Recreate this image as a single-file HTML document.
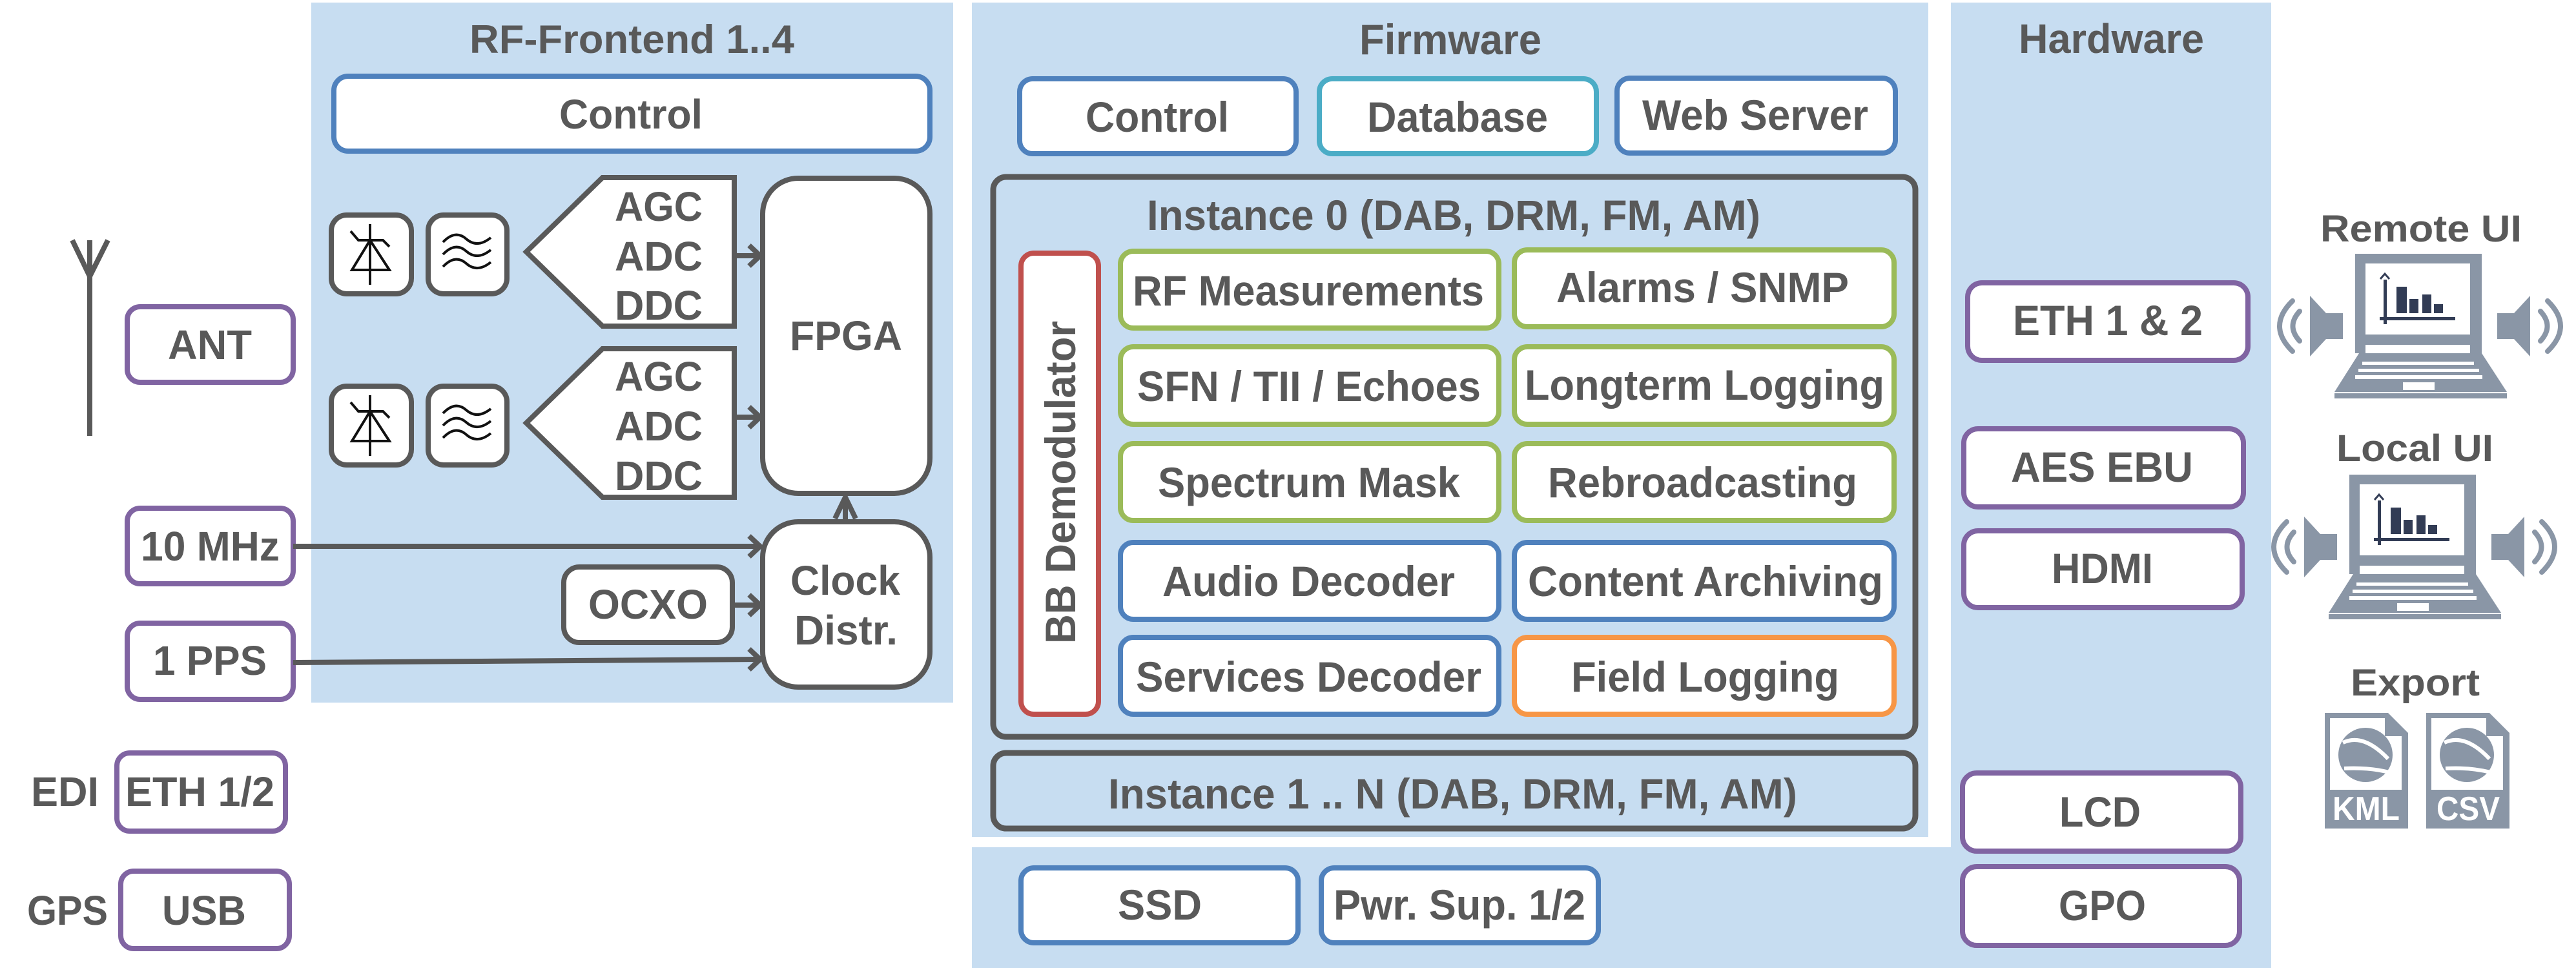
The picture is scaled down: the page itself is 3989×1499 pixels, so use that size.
<!DOCTYPE html>
<html><head><meta charset="utf-8"><style>
html,body{margin:0;padding:0;background:#fff;}
svg{display:block;}
text{font-family:"Liberation Sans",Arial,sans-serif;font-weight:bold;fill:#595959;}
</style></head><body>
<svg width="3989" height="1499" viewBox="0 0 3989 1499" xmlns="http://www.w3.org/2000/svg">
<!-- panels -->
<rect x="482" y="4" width="994" height="1084" fill="#c7ddf1"/>
<rect x="1505" y="4" width="1481" height="1292" fill="#c7ddf1"/>
<rect x="1505" y="1312" width="2012" height="187" fill="#c7ddf1"/>
<rect x="3021" y="4" width="496" height="1495" fill="#c7ddf1"/>

<g fill="#fff" stroke-width="8">
<!-- RF -->
<rect x="517" y="118" width="923" height="116" rx="22" stroke="#4f81bd"/>
<rect x="513" y="333" width="124" height="122" rx="24" stroke="#595959"/>
<rect x="663" y="333" width="122" height="122" rx="24" stroke="#595959"/>
<rect x="513" y="598" width="124" height="122" rx="24" stroke="#595959"/>
<rect x="663" y="598" width="122" height="122" rx="24" stroke="#595959"/>
<polygon points="815,390 933,275 1137,275 1137,505 933,505" stroke="#595959" stroke-linejoin="miter"/>
<polygon points="815,655 933,540 1137,540 1137,770 933,770" stroke="#595959"/>
<rect x="1181" y="276" width="259" height="488" rx="55" stroke="#595959"/>
<rect x="1181" y="808" width="259" height="256" rx="55" stroke="#595959"/>
<rect x="873" y="878" width="261" height="117" rx="24" stroke="#595959"/>
<!-- left -->
<rect x="197" y="475" width="257" height="117" rx="20" stroke="#8064a2"/>
<rect x="197" y="787" width="257" height="117" rx="20" stroke="#8064a2"/>
<rect x="197" y="965" width="257" height="118" rx="20" stroke="#8064a2"/>
<rect x="181" y="1166" width="261" height="121" rx="20" stroke="#8064a2"/>
<rect x="187" y="1349" width="261" height="120" rx="20" stroke="#8064a2"/>
<!-- firmware -->
<rect x="1579" y="122" width="428" height="116" rx="20" stroke="#4f81bd"/>
<rect x="2043" y="122" width="429" height="116" rx="20" stroke="#4bacc6"/>
<rect x="2504" y="121" width="431" height="116" rx="20" stroke="#4f81bd"/>
<rect x="1538" y="274" width="1428" height="867" rx="20" fill="none" stroke="#595959" stroke-width="9"/>
<rect x="1581" y="392" width="120" height="714" rx="20" stroke="#c0504d"/>
<rect x="1735" y="389" width="586" height="119" rx="20" stroke="#9bbb59"/>
<rect x="2345" y="387" width="588" height="119" rx="20" stroke="#9bbb59"/>
<rect x="1735" y="537" width="586" height="120" rx="20" stroke="#9bbb59"/>
<rect x="2345" y="537" width="588" height="120" rx="20" stroke="#9bbb59"/>
<rect x="1735" y="687" width="586" height="119" rx="20" stroke="#9bbb59"/>
<rect x="2345" y="687" width="588" height="119" rx="20" stroke="#9bbb59"/>
<rect x="1735" y="840" width="586" height="119" rx="20" stroke="#4f81bd"/>
<rect x="2345" y="840" width="588" height="119" rx="20" stroke="#4f81bd"/>
<rect x="1735" y="987" width="586" height="119" rx="20" stroke="#4f81bd"/>
<rect x="2345" y="987" width="588" height="119" rx="20" stroke="#f79646"/>
<rect x="1538" y="1166" width="1428" height="117" rx="20" fill="none" stroke="#595959" stroke-width="9"/>
<rect x="1581" y="1344" width="429" height="116" rx="20" stroke="#4f81bd"/>
<rect x="2046" y="1344" width="429" height="116" rx="20" stroke="#4f81bd"/>
<!-- hardware -->
<rect x="3047" y="438" width="434" height="120" rx="22" stroke="#8064a2"/>
<rect x="3041" y="664" width="433" height="121" rx="22" stroke="#8064a2"/>
<rect x="3041" y="822" width="431" height="119" rx="22" stroke="#8064a2"/>
<rect x="3039" y="1197" width="431" height="121" rx="22" stroke="#8064a2"/>
<rect x="3039" y="1342" width="429" height="122" rx="22" stroke="#8064a2"/>
</g>

<!-- icons in RF -->
<g stroke="#111" stroke-width="4" fill="none">
<line x1="573" y1="347" x2="573" y2="441"/>
<polygon points="573,372 545,418 603,418"/>
<polyline points="543,358 555,372 593,372 603,382"/>
<line x1="573" y1="612" x2="573" y2="706"/>
<polygon points="573,637 545,683 603,683"/>
<polyline points="543,623 555,637 593,637 603,647"/>
<path d="M686,375 Q705,355 722,370 T760,368"/>
<path d="M686,394 Q705,374 722,389 T760,387"/>
<path d="M686,413 Q705,393 722,408 T760,406"/>
<path d="M686,640 Q705,620 722,635 T760,633"/>
<path d="M686,659 Q705,639 722,654 T760,652"/>
<path d="M686,678 Q705,658 722,673 T760,671"/>
</g>

<!-- antenna & connectors -->
<g stroke="#595959" stroke-width="8" fill="none">
<line x1="139" y1="372" x2="139" y2="675"/>
<polyline points="112,372 139,428 167,372"/>
<line x1="454" y1="846" x2="1177" y2="846"/>
<polyline points="1160,830 1177,846 1160,862"/>
<line x1="454" y1="1026" x2="1177" y2="1021"/>
<polyline points="1160,1005 1177,1021 1160,1037"/>
<line x1="1137" y1="937" x2="1177" y2="937"/>
<polyline points="1160,921 1177,937 1160,953"/>
<line x1="1137" y1="396" x2="1177" y2="396"/>
<polyline points="1160,380 1177,396 1160,412"/>
<line x1="1137" y1="646" x2="1177" y2="646"/>
<polyline points="1160,630 1177,646 1160,662"/>
<line x1="1309" y1="806" x2="1309" y2="770"/>
<polyline points="1293,803 1309,770 1325,803"/>
</g>

<!-- RF text -->
<text x="727" y="82" font-size="62" textLength="503" lengthAdjust="spacingAndGlyphs">RF-Frontend 1..4</text>
<text x="866" y="199" font-size="64" textLength="222" lengthAdjust="spacingAndGlyphs">Control</text>
<g font-size="64">
<text x="952" y="342" textLength="136" lengthAdjust="spacingAndGlyphs">AGC</text>
<text x="952" y="419" textLength="136" lengthAdjust="spacingAndGlyphs">ADC</text>
<text x="952" y="495" textLength="136" lengthAdjust="spacingAndGlyphs">DDC</text>
<text x="952" y="605" textLength="136" lengthAdjust="spacingAndGlyphs">AGC</text>
<text x="952" y="682" textLength="136" lengthAdjust="spacingAndGlyphs">ADC</text>
<text x="952" y="759" textLength="136" lengthAdjust="spacingAndGlyphs">DDC</text>
<text x="1223" y="542" textLength="174" lengthAdjust="spacingAndGlyphs">FPGA</text>
<text x="1224" y="921" textLength="170" lengthAdjust="spacingAndGlyphs">Clock</text>
<text x="1230" y="998" textLength="160" lengthAdjust="spacingAndGlyphs">Distr.</text>
<text x="911" y="958" textLength="185" lengthAdjust="spacingAndGlyphs">OCXO</text>
<text x="260" y="556" textLength="130" lengthAdjust="spacingAndGlyphs">ANT</text>
<text x="218" y="868" textLength="215" lengthAdjust="spacingAndGlyphs">10 MHz</text>
<text x="237" y="1045" textLength="176" lengthAdjust="spacingAndGlyphs">1 PPS</text>
<text x="48" y="1248" textLength="105" lengthAdjust="spacingAndGlyphs">EDI</text>
<text x="194" y="1248" textLength="231" lengthAdjust="spacingAndGlyphs">ETH 1/2</text>
<text x="42" y="1432" textLength="125" lengthAdjust="spacingAndGlyphs">GPS</text>
<text x="251" y="1432" textLength="130" lengthAdjust="spacingAndGlyphs">USB</text>
</g>

<!-- firmware text -->
<g font-size="66">
<text x="2105" y="84" textLength="282" lengthAdjust="spacingAndGlyphs">Firmware</text>
<text x="1681" y="204" textLength="222" lengthAdjust="spacingAndGlyphs">Control</text>
<text x="2117" y="204" textLength="280" lengthAdjust="spacingAndGlyphs">Database</text>
<text x="2543" y="201" textLength="350" lengthAdjust="spacingAndGlyphs">Web Server</text>
<text x="1776" y="356" textLength="950" lengthAdjust="spacingAndGlyphs">Instance 0 (DAB, DRM, FM, AM)</text>
<text x="1754" y="473" textLength="544" lengthAdjust="spacingAndGlyphs">RF Measurements</text>
<text x="2410" y="468" textLength="453" lengthAdjust="spacingAndGlyphs">Alarms / SNMP</text>
<text x="1761" y="621" textLength="532" lengthAdjust="spacingAndGlyphs">SFN / TII / Echoes</text>
<text x="2361" y="619" textLength="557" lengthAdjust="spacingAndGlyphs">Longterm Logging</text>
<text x="1793" y="770" textLength="468" lengthAdjust="spacingAndGlyphs">Spectrum Mask</text>
<text x="2397" y="770" textLength="479" lengthAdjust="spacingAndGlyphs">Rebroadcasting</text>
<text x="1800" y="923" textLength="453" lengthAdjust="spacingAndGlyphs">Audio Decoder</text>
<text x="2366" y="923" textLength="550" lengthAdjust="spacingAndGlyphs">Content Archiving</text>
<text x="1759" y="1071" textLength="535" lengthAdjust="spacingAndGlyphs">Services Decoder</text>
<text x="2433" y="1071" textLength="415" lengthAdjust="spacingAndGlyphs">Field Logging</text>
<text x="0" y="0" textLength="500" lengthAdjust="spacingAndGlyphs" transform="translate(1665,997) rotate(-90)">BB Demodulator</text>
<text x="1716" y="1252" textLength="1067" lengthAdjust="spacingAndGlyphs">Instance 1 .. N (DAB, DRM, FM, AM)</text>
<text x="1731" y="1424" textLength="130" lengthAdjust="spacingAndGlyphs">SSD</text>
<text x="2065" y="1424" textLength="390" lengthAdjust="spacingAndGlyphs">Pwr. Sup. 1/2</text>
</g>

<!-- hardware text -->
<g font-size="66">
<text x="3126" y="82" font-size="64" textLength="287" lengthAdjust="spacingAndGlyphs">Hardware</text>
<text x="3117" y="519" textLength="294" lengthAdjust="spacingAndGlyphs">ETH 1 &amp; 2</text>
<text x="3114" y="746" textLength="282" lengthAdjust="spacingAndGlyphs">AES EBU</text>
<text x="3177" y="903" textLength="157" lengthAdjust="spacingAndGlyphs">HDMI</text>
<text x="3189" y="1280" textLength="126" lengthAdjust="spacingAndGlyphs">LCD</text>
<text x="3188" y="1425" textLength="135" lengthAdjust="spacingAndGlyphs">GPO</text>
</g>
<g font-size="58">
<text x="3593" y="374" textLength="312" lengthAdjust="spacingAndGlyphs">Remote UI</text>
<text x="3618" y="714" textLength="243" lengthAdjust="spacingAndGlyphs">Local UI</text>
<text x="3640" y="1077" textLength="200" lengthAdjust="spacingAndGlyphs">Export</text>
</g>

<!-- laptops -->
<defs>
<g id="lap">
<rect x="3647" y="393" width="196" height="154" fill="#8a96a6"/>
<rect x="3663" y="408" width="162" height="110" fill="#fff"/>
<rect x="3663" y="534" width="162" height="13" fill="#fff"/>
<polygon points="3653,547 3843,547 3882,607 3615,607" fill="#8a96a6"/>
<rect x="3658" y="560" width="173" height="5" fill="#fff"/>
<rect x="3652" y="571" width="187" height="5" fill="#fff"/>
<rect x="3647" y="581" width="197" height="6" fill="#fff"/>
<rect x="3721" y="592" width="49" height="12" fill="#fff"/>
<rect x="3615" y="609" width="267" height="8" fill="#8a96a6"/>
<g fill="#323c55">
<rect x="3691" y="433" width="5" height="69"/>
<rect x="3685" y="491" width="117" height="5"/>
<rect x="3711" y="444" width="16" height="41"/>
<rect x="3731" y="463" width="14" height="22"/>
<rect x="3751" y="456" width="14" height="29"/>
<rect x="3769" y="471" width="14" height="14"/>
</g>
<polyline points="3686,432 3693,424 3700,432" fill="none" stroke="#323c55" stroke-width="3"/>
<g id="spk">
<polygon points="3577,458 3602,485 3628,485 3628,525 3602,525 3577,552" fill="#8a96a6"/>
<path d="M3561,482 Q3540,505 3561,528" fill="none" stroke="#8a96a6" stroke-width="8" stroke-linecap="round"/>
<path d="M3550,466 Q3510,505 3550,544" fill="none" stroke="#8a96a6" stroke-width="8" stroke-linecap="round"/>
</g>
<use href="#spk" transform="translate(7495,0) scale(-1,1)"/>
</g>
<g id="file">
<path d="M3600,1104 L3698,1104 L3729,1135 L3729,1283 L3600,1283 Z" fill="#8a96a6"/>
<path d="M3608,1112 L3693,1112 L3693,1140 L3719,1140 L3719,1223 L3608,1223 Z" fill="#fff"/>
<circle cx="3663" cy="1169" r="42" fill="#8a96a6"/>
<path d="M3628,1150 Q3660,1135 3698,1175 M3630,1190 Q3668,1188 3700,1196" stroke="#fff" stroke-width="6" fill="none"/>
</g>
</defs>
<use href="#lap"/>
<use href="#lap" transform="translate(-9,342)"/>
<use href="#file"/>
<use href="#file" transform="translate(157,0)"/>
<text x="3612" y="1270" font-size="52" style="fill:#fff" textLength="104" lengthAdjust="spacingAndGlyphs">KML</text>
<text x="3773" y="1270" font-size="52" style="fill:#fff" textLength="98" lengthAdjust="spacingAndGlyphs">CSV</text>
</svg>
</body></html>
